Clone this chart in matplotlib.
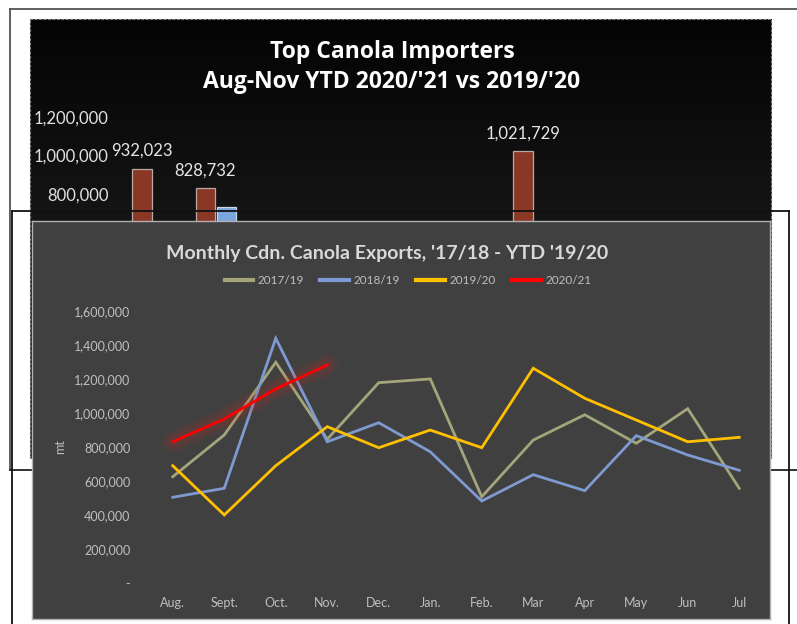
import numpy as np
import matplotlib.pyplot as plt
from matplotlib.lines import Line2D
from matplotlib.colors import LinearSegmentedColormap

# background chart (mostly hidden behind the line chart)
bg_title = "Top Canola Importers\nAug-Nov YTD 2020/'21 vs 2019/'20"
bg_ticks = [800000, 1000000, 1200000]
bg_2021 = [932023, 828732, np.nan, np.nan, np.nan, np.nan, 1021729, np.nan, np.nan, np.nan]
bg_2020 = [np.nan, 730000, np.nan, np.nan, np.nan, np.nan, np.nan, np.nan, np.nan, np.nan]
bg_labels = ["932,023", "828,732", "", "", "", "", "1,021,729", "", "", ""]

# front chart
months = ["Aug.", "Sept.", "Oct.", "Nov.", "Dec.", "Jan.", "Feb.", "Mar", "Apr", "May", "Jun", "Jul"]
s2017 = [624000, 870000, 1298000, 845000, 1178000, 1200000, 506000, 840000, 989000, 821000, 1025000, 556000]
s2018 = [503000, 556000, 1439000, 830000, 942000, 771000, 481000, 636000, 542000, 866000, 752000, 662000]
s2019 = [689000, 399000, 689000, 919000, 795000, 899000, 795000, 1263000, 1086000, 958000, 830000, 856000]
s2020 = [830000, 964000, 1141000, 1282000]
y_ticks = [0, 200000, 400000, 600000, 800000, 1000000, 1200000, 1400000, 1600000]

W, H = 797, 624
plt.rcParams["font.family"] = ["Lato", "DejaVu Sans"]
fig = plt.figure(figsize=(W / 100, H / 100), dpi=100)
fig.patch.set_facecolor("white")


def box(x0, y0, x1, y1):
    # pixel box (top-left origin) -> figure fraction rect
    return [x0 / W, 1 - y1 / H, (x1 - x0) / W, (y1 - y0) / H]


def fx(x):
    return x / W


def fy(y):
    return 1 - y / H


# black gradient panel
ax_bg = fig.add_axes(box(29.5, 19, 771, 458), zorder=0)
grad = np.linspace(0, 1, 256).reshape(-1, 1)
cm = LinearSegmentedColormap.from_list("bk", ["#040404", "#161616", "#222222"])
ax_bg.imshow(grad, aspect="auto", cmap=cm, extent=[0, 1, 0, 1], origin="upper")
ax_bg.set_xlim(0, 1)
ax_bg.set_ylim(0, 1)
ax_bg.set_xticks([])
ax_bg.set_yticks([])
for s in ax_bg.spines.values():
    s.set_color("#7f7f7f")
    s.set_linestyle((0, (2, 2)))
    s.set_linewidth(0.8)
ax_bg.text((392 - 29.5) / (771 - 29.5), (458 - 67) / (458 - 19), bg_title, transform=ax_bg.transAxes,
           ha="center", va="center", color="white", fontsize=16.5, fontweight="bold",
           family=["Open Sans", "DejaVu Sans"], linespacing=1.35)

# background bars
ax_b = fig.add_axes(box(118, 100, 771, 348), zorder=0.5)
ax_b.patch.set_alpha(0)
x = np.arange(len(bg_2021))
bw = 0.3
ax_b.bar(x - 0.169, bg_2021, width=bw, color="#8a3726", edgecolor="#b9aaa3", linewidth=0.9)
ax_b.bar(x + 0.169, bg_2020, width=bw, color="#79a6de", edgecolor="#c9d6e6", linewidth=0.9)
for i, (v, lab) in enumerate(zip(bg_2021, bg_labels)):
    if lab:
        ax_b.text(i - 0.169, v + 50000, lab, ha="center", va="bottom", color="#e6e6e6", fontsize=12)
ax_b.set_xlim(-0.547, 9.737)
ax_b.set_ylim(0, 1288000)
ax_b.set_yticks(bg_ticks)
ax_b.set_yticklabels([f"{t:,}" for t in bg_ticks], color="#e0e0e0", fontsize=12)
ax_b.tick_params(axis="y", length=0, pad=7)
ax_b.set_xticks([])
for s in ax_b.spines.values():
    s.set_visible(False)

# frame lines
line_kw = dict(transform=fig.transFigure, linewidth=1.3)
gray = "#555555"
fig.add_artist(Line2D([fx(9.5), fx(797)], [fy(8.5), fy(8.5)], color=gray, zorder=1, **line_kw))
fig.add_artist(Line2D([fx(9.5), fx(9.5)], [fy(8.5), fy(469.5)], color=gray, zorder=1, **line_kw))
fig.add_artist(Line2D([fx(9.5), fx(797)], [fy(469.5), fy(469.5)], color="#222222", zorder=1, **line_kw))
fig.add_artist(Line2D([fx(12), fx(789)], [fy(211), fy(211)], color="#111111", zorder=1, **line_kw))
fig.add_artist(Line2D([fx(12), fx(12)], [fy(211), fy(624)], color="#111111", zorder=1, **line_kw))
fig.add_artist(Line2D([fx(789), fx(789)], [fy(211), fy(624)], color="#111111", zorder=1, **line_kw))

# gray panel of the line chart
ax_p = fig.add_axes(box(32, 221, 770, 619), zorder=2)
ax_p.set_facecolor("#404040")
ax_p.set_xticks([])
ax_p.set_yticks([])
for s in ax_p.spines.values():
    s.set_color("#b0b0b0")
    s.set_linewidth(1.0)
ax_p.text((387 - 32) / (770 - 32), (619 - 253) / (619 - 221),
          "Monthly Cdn. Canola Exports, '17/18 - YTD '19/20", transform=ax_p.transAxes,
          ha="center", va="center", color="#d9d9d9", fontsize=14, fontweight="bold")
ax_p.text((60 - 32) / (770 - 32), (619 - 447) / (619 - 221), "mt", transform=ax_p.transAxes,
          ha="center", va="center", rotation=90, color="#bfbfbf", fontsize=9)

# line chart
ax = fig.add_axes(box(147, 311, 765, 582.7), zorder=3)
ax.patch.set_alpha(0)
xm = np.arange(len(months))
lw = 2.0
ax.plot(xm, s2017, color="#a5a57c", lw=lw, label="2017/19", solid_joinstyle="miter")
ax.plot(xm, s2018, color="#7f9ad0", lw=lw, label="2018/19", solid_joinstyle="miter")
ax.plot(xm, s2019, color="#ffc000", lw=lw, label="2019/20", solid_joinstyle="miter")
xr = xm[:len(s2020)]
for w, a in [(16, 0.06), (12, 0.08), (8, 0.1)]:
    ax.plot(xr, s2020, color="#d03020", lw=w, alpha=a, solid_capstyle="round")
ax.plot(xr, s2020, color="#ff0000", lw=lw, label="2020/21")

ax.set_xlim(-0.5, 11.5)
ax.set_ylim(0, 1600000)
ax.set_xticks(xm)
ax.set_xticklabels(months)
ax.set_yticks(y_ticks)
ax.set_yticklabels(["-"] + [f"{t:,}" for t in y_ticks[1:]])
ax.tick_params(axis="both", length=0, colors="#bfbfbf", labelsize=9)
ax.tick_params(axis="y", pad=12)
ax.tick_params(axis="x", pad=10)
for s in ax.spines.values():
    s.set_visible(False)

leg = ax.legend(loc="center", bbox_to_anchor=(fx(408), fy(281)), bbox_transform=fig.transFigure,
                ncol=4, frameon=False, fontsize=8.5, handlelength=2.4, handletextpad=0.4,
                columnspacing=1.4, labelcolor="#bfbfbf")
for h in leg.get_lines():
    h.set_linewidth(3)

fig.savefig("out.png", dpi=100, facecolor=fig.get_facecolor())
